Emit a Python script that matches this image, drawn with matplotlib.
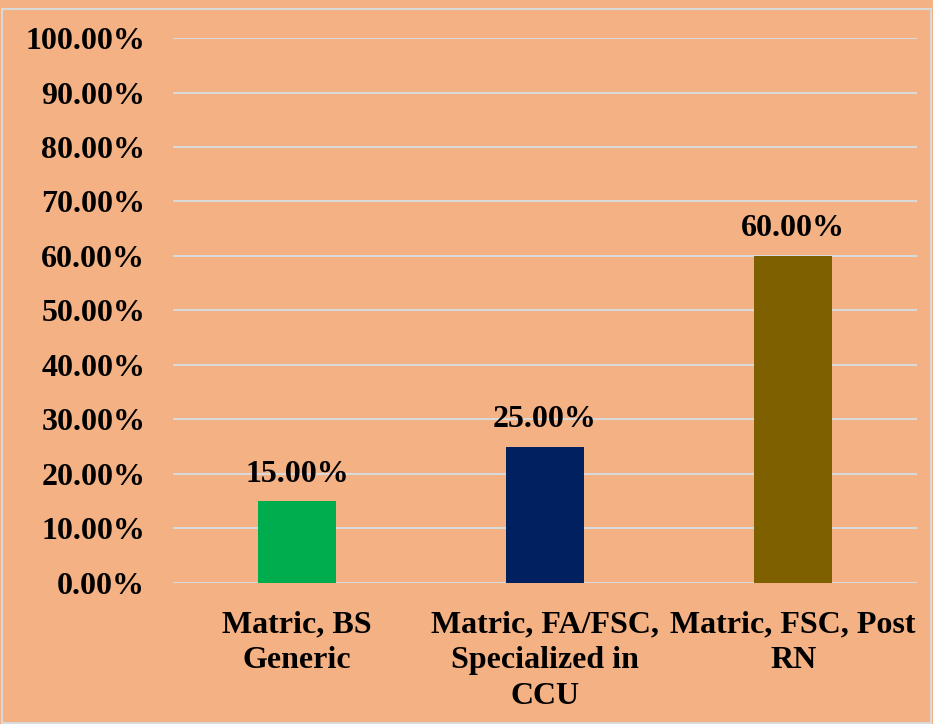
import numpy as np
import matplotlib.pyplot as plt

categories = ['Matric, BS\nGeneric', 'Matric, FA/FSC,\nSpecialized in\nCCU', 'Matric, FSC, Post\nRN']
values = [15.0, 25.0, 60.0]
colors = ['#00AD4E', '#002060', '#7F6000']
yticks = np.arange(0, 101, 10)

bg = '#F4B183'
fig = plt.figure(figsize=(9.33, 7.24), dpi=100, facecolor=bg)
ax = fig.add_axes([0.1854, 0.1948, 0.7976, 0.7527])
ax.set_facecolor(bg)

x = np.arange(len(categories))
ax.bar(x, values, width=0.315, color=colors, zorder=3)

for xi, v in zip(x, values):
    ax.text(xi, v + 2.3, f'{v:.2f}%', ha='center', va='bottom',
            fontsize=23, fontweight='bold', family='Liberation Serif')

ax.set_xlim(-0.5, len(categories) - 0.5)
ax.set_ylim(0, 100)
ax.set_yticks(yticks)
ax.set_yticklabels([f'{t:.2f}%' for t in yticks])
ax.set_xticks(x)
ax.set_xticklabels(categories, linespacing=1.3)
for lbl in ax.get_xticklabels() + ax.get_yticklabels():
    lbl.set_fontsize(23)
    lbl.set_fontweight('bold')
    lbl.set_family('Liberation Serif')

ax.grid(axis='y', color='#D9D9D9', linewidth=1.5, zorder=0)
ax.tick_params(axis='both', length=0)
ax.tick_params(axis='y', pad=20)
ax.tick_params(axis='x', pad=20)
for s in ax.spines.values():
    s.set_visible(False)

# light border around the chart area
fig.patches.append(plt.Rectangle((0.002, 0.002), 0.996, 0.985, transform=fig.transFigure,
                                 fill=False, edgecolor='#D9D9D9', linewidth=1.5))

fig.savefig('out.png', dpi=100, facecolor=bg)
